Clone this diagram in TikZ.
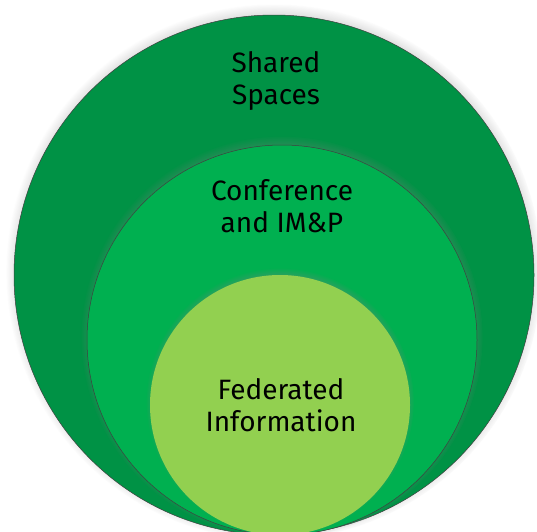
\documentclass[tikz,border=0pt]{standalone}
\usepackage{fontspec}
\setsansfont{Fira Sans}
\usetikzlibrary{shadows}

\definecolor{darkgreen}{RGB}{0,146,69}
\definecolor{midgreen}{RGB}{0,176,80}
\definecolor{lightgreen}{RGB}{146,208,80}

\begin{document}
\begin{tikzpicture}[x=1pt,y=-1pt,line cap=round,line join=round,
  ring/.style={circle, inner sep=0pt, line width=0.5pt,
    circular drop shadow={shadow xshift=0pt, shadow yshift=3pt, shadow scale=1.03, opacity=0.85}},
  lbl/.style={align=center, inner sep=0pt, text=black,
    font=\sffamily\fontsize{28}{32}\selectfont}]

\useasboundingbox (0,0) rectangle (537,531);

% Rings, largest first, all touching at the bottom
\node[ring, draw=black!75, fill=darkgreen, minimum size=520pt] (shared) at (274,275) {};
\node[ring, draw=black!75, fill=midgreen, minimum size=390pt] (conf) at (282,340) {};
\node[ring, fill=lightgreen, minimum size=260pt] (fed) at (280,405) {};

% Labels
\node[lbl] (sharedtxt) at (276,81) {Shared\\Spaces};
\node[lbl] (conftxt) at (282,206) {Conference\\and IM\&P};
\node[lbl] (fedtxt) at (281,405) {Federated\\Information};

\end{tikzpicture}
\end{document}
